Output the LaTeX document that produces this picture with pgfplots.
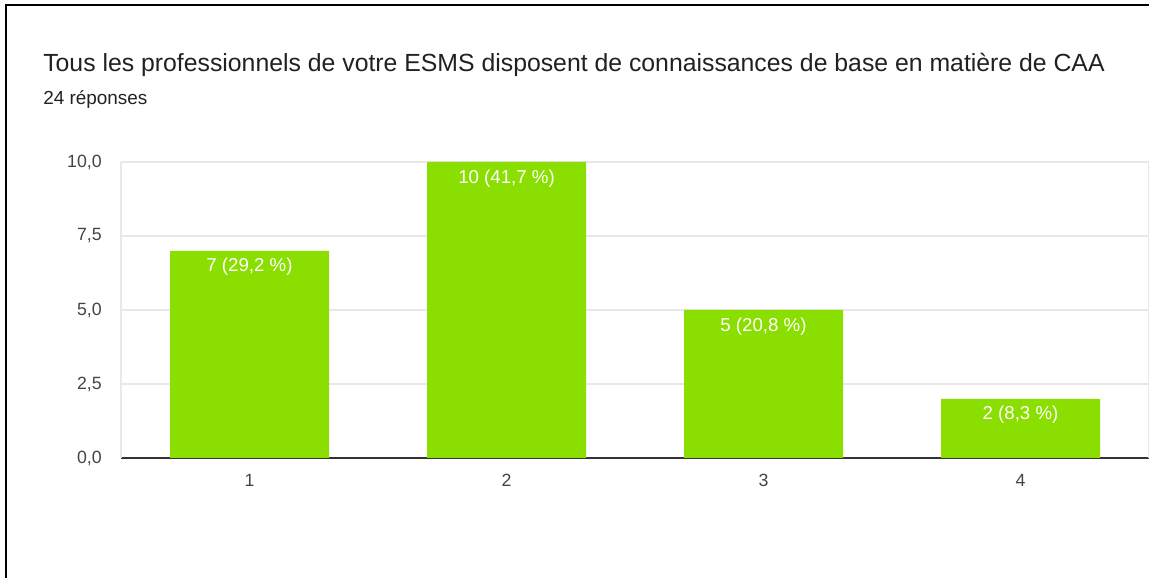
\documentclass[border=0pt]{standalone}
\usepackage{pgfplots}
\pgfplotsset{compat=1.18}
\usepackage{fontspec}
\setmainfont{Liberation Sans}
\definecolor{bargreen}{RGB}{138,222,0}
\definecolor{gridgray}{RGB}{232,232,232}
\definecolor{titlecol}{RGB}{32,33,36}
\definecolor{ticklab}{RGB}{68,68,68}
\definecolor{axisdark}{RGB}{51,51,51}
\begin{document}
\begin{tikzpicture}[x=0.75pt,y=0.75pt]
\useasboundingbox (0,0) rectangle (1149,578);
\draw[black, line width=1.5pt] (6,0) -- (6,573) -- (1149,573);
\node[anchor=base west, inner sep=0, text=titlecol, font=\fontsize{18.6}{22}\selectfont] at (43,506) {Tous les professionnels de votre ESMS disposent de connaissances de base en matière de CAA};
\node[anchor=base west, inner sep=0, text=titlecol, font=\fontsize{14.2}{16}\selectfont] at (43,473) {24 réponses};
\begin{axis}[
  at={(90.75pt,90pt)}, anchor=south west,
  scale only axis, width=771pt, height=222pt,
  ybar, bar width=119.25pt,
  xmin=0.5, xmax=4.5, ymin=0, ymax=10,
  xtick={1,2,3,4}, xticklabels={1,2,3,4},
  ytick={0,2.5,5,7.5,10},
  yticklabels={{0,0},{2,5},{5,0},{7,5},{10,0}},
  major tick length=0pt,
  axis lines=left,
  x axis line style={draw=axisdark, line width=1.1pt, -},
  y axis line style={draw=gridgray, line width=1.1pt, -},
  ymajorgrids, grid style={draw=gridgray, line width=1.1pt},
  tick label style={font=\fontsize{13.3}{16}\selectfont, text=ticklab},
  xticklabel style={anchor=north, inner sep=0pt, yshift=-12pt},
  yticklabel style={anchor=east, inner sep=0pt, xshift=-14.25pt},
  point meta=explicit symbolic,
  nodes near coords,
  every node near coord/.append style={anchor=north, inner sep=0pt, yshift=-5.5pt, text=white, font=\fontsize{14}{16}\selectfont},
  clip=false,
]
\addplot[fill=bargreen, draw=none] coordinates {
  (1,7) [7 (29,2 \%)]
  (2,10) [10 (41,7 \%)]
  (3,5) [5 (20,8 \%)]
  (4,2) [2 (8,3 \%)]
};
\draw[gridgray, line width=0.8pt] (axis cs:4.5,0) -- (axis cs:4.5,10);
\end{axis}
\end{tikzpicture}
\end{document}
